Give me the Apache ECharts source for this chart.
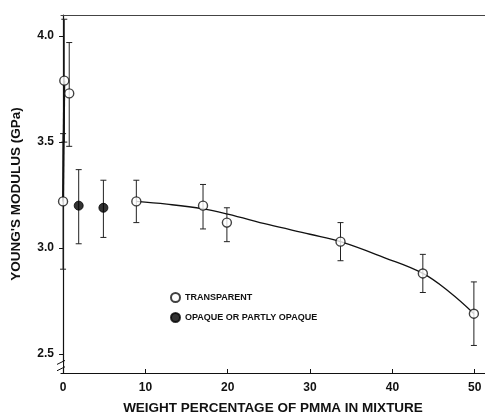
<!DOCTYPE html>
<html>
<head>
<meta charset="utf-8">
<script src="https://cdn.jsdelivr.net/npm/echarts@6/dist/echarts.min.js"></script>
<style>
  html, body { margin: 0; padding: 0; background: #fff; }
  #main { width: 485px; height: 415px; }
</style>
</head>
<body>
<div id="main"></div>
<script>
// open circles (transparent samples) with error bars
var transparentX = [0, 0.15, 0.75, 8.9, 17.0, 19.9, 33.7, 43.7, 49.9];
var transparentY = [3.22, 3.79, 3.73, 3.22, 3.20, 3.12, 3.03, 2.88, 2.69];
var transparentLow = [2.90, 3.50, 3.48, 3.12, 3.09, 3.03, 2.94, 2.79, 2.54];
var transparentHigh = [3.54, 4.08, 3.97, 3.32, 3.30, 3.19, 3.12, 2.97, 2.84];

// filled circles (opaque samples)
var opaqueX = [1.9, 4.9];
var opaqueY = [3.20, 3.19];
var opaqueLow = [3.02, 3.05];
var opaqueHigh = [3.37, 3.32];

// hand-drawn trend curve
var curveX = [8.9, 12.6, 17, 20, 25, 30, 33.7, 39, 43.7, 47, 49.9];
var curveY = [3.22, 3.207, 3.185, 3.16, 3.11, 3.065, 3.03, 2.955, 2.88, 2.79, 2.69];
var steepX = [0, 0.15];
var steepY = [3.22, 3.79];

var xTicks = [0, 10, 20, 30, 40, 50];
var yTicks = [2.5, 3.0, 3.5, 4.0];

var font = 'Liberation Sans, Arial, sans-serif';

function zip(a, b) {
    var out = [];
    for (var i = 0; i < a.length; i++) out.push([a[i], b[i]]);
    return out;
}
function zip3(a, b, c) {
    var out = [];
    for (var i = 0; i < a.length; i++) out.push([a[i], b[i], c[i]]);
    return out;
}

// error bar drawn from data through the axes
function errorBar(params, api) {
    var x = api.value(0);
    var lo = api.coord([x, api.value(1)]);
    var hi = api.coord([x, api.value(2)]);
    var w = 3;
    var style = { stroke: '#222', lineWidth: 1 };
    return {
        type: 'group',
        children: [
            { type: 'line', shape: { x1: lo[0], y1: lo[1], x2: hi[0], y2: hi[1] }, style: style },
            { type: 'line', shape: { x1: lo[0] - w, y1: lo[1], x2: lo[0] + w, y2: lo[1] }, style: style },
            { type: 'line', shape: { x1: hi[0] - w, y1: hi[1], x2: hi[0] + w, y2: hi[1] }, style: style }
        ]
    };
}

var myChart = echarts.init(document.getElementById('main'));

var option = {
    animation: false,
    backgroundColor: '#fff',
    textStyle: { fontFamily: font },
    grid: { left: 61, right: 0, top: 15, bottom: 42, outerBoundsMode: 'none', containLabel: false },
    legend: {
        orient: 'vertical',
        left: 165,
        top: 287,
        itemWidth: 9,
        itemHeight: 9,
        itemGap: 9,
        textStyle: { fontSize: 9, fontWeight: 'bold', color: '#111', fontFamily: font },
        data: ['TRANSPARENT', 'OPAQUE OR PARTLY OPAQUE']
    },
    xAxis: [{
        type: 'value',
        min: -0.25,
        max: 51.25,
        name: 'WEIGHT PERCENTAGE OF PMMA IN MIXTURE',
        nameLocation: 'middle',
        nameGap: 28,
        nameTextStyle: { fontSize: 13.5, fontWeight: 'bold', color: '#111', fontFamily: font },
        splitLine: { show: false },
        axisLine: { lineStyle: { color: '#111', width: 1.2 } },
        axisTick: { inside: true, length: 4, customValues: xTicks, lineStyle: { color: '#111' } },
        axisLabel: { customValues: xTicks, fontSize: 12, fontWeight: 'bold', color: '#111', margin: 9 }
    }, {
        type: 'value',
        position: 'top',
        min: -0.25,
        max: 51.25,
        splitLine: { show: false },
        axisLine: { show: true, lineStyle: { color: '#444', width: 1 } },
        axisTick: { show: false },
        axisLabel: { show: false }
    }],
    yAxis: {
        type: 'value',
        min: 2.41,
        max: 4.10,
        name: "YOUNG'S MODULUS (GPa)",
        nameLocation: 'middle',
        nameGap: 38,
        nameTextStyle: { fontSize: 13.5, fontWeight: 'bold', color: '#111', fontFamily: font },
        splitLine: { show: false },
        axisLine: { show: true, lineStyle: { color: '#111', width: 1.2 } },
        axisTick: { length: 4, customValues: yTicks, lineStyle: { color: '#111' } },
        axisLabel: {
            customValues: yTicks, fontSize: 12, fontWeight: 'bold', color: '#111', margin: 7,
            formatter: function (v) { return v.toFixed(1); }
        }
    },
    series: [
        {
            type: 'custom',
            renderItem: errorBar,
            data: zip3(transparentX, transparentLow, transparentHigh),
            z: 1,
            silent: true
        },
        {
            type: 'custom',
            renderItem: errorBar,
            data: zip3(opaqueX, opaqueLow, opaqueHigh),
            z: 1,
            silent: true
        },
        {
            type: 'line',
            data: zip(curveX, curveY),
            smooth: 0.4,
            showSymbol: false,
            lineStyle: { color: '#111', width: 1.3 },
            z: 2
        },
        {
            type: 'line',
            data: zip(steepX, steepY),
            showSymbol: false,
            lineStyle: { color: '#111', width: 2 },
            z: 2
        },
        {
            name: 'TRANSPARENT',
            type: 'scatter',
            data: zip(transparentX, transparentY),
            symbol: 'circle',
            symbolSize: 9,
            itemStyle: { color: '#fff', borderColor: '#111', borderWidth: 1.4 },
            z: 3
        },
        {
            name: 'OPAQUE OR PARTLY OPAQUE',
            type: 'scatter',
            data: zip(opaqueX, opaqueY),
            symbol: 'circle',
            symbolSize: 9,
            itemStyle: { color: '#000', borderColor: '#000', borderWidth: 1 },
            z: 3
        }
    ]
};

myChart.setOption(option);

// axis break mark on the y axis, between 2.5 and the bottom
var b1 = myChart.convertToPixel({ gridIndex: 0 }, [-0.25, 2.46]);
var b2 = myChart.convertToPixel({ gridIndex: 0 }, [-0.25, 2.43]);
myChart.setOption({
    graphic: [
        { type: 'rect', shape: { x: b1[0] - 2, y: b1[1], width: 4, height: b2[1] - b1[1] }, style: { fill: '#fff' }, z: 10 },
        { type: 'line', shape: { x1: b1[0] - 4, y1: b1[1] + 2, x2: b1[0] + 4, y2: b1[1] - 2 }, style: { stroke: '#111', lineWidth: 1 }, z: 11 },
        { type: 'line', shape: { x1: b2[0] - 4, y1: b2[1] + 2, x2: b2[0] + 4, y2: b2[1] - 2 }, style: { stroke: '#111', lineWidth: 1 }, z: 11 }
    ]
});
</script>
</body>
</html>
